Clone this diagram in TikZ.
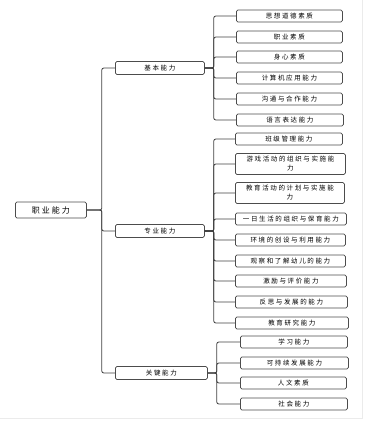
\documentclass[tikz,border=0pt]{standalone}
\usepackage{fontspec}
\setmainfont{Noto Sans CJK SC}
\newfontfamily\cjk[LetterSpace=25]{Noto Sans CJK SC}
\usetikzlibrary{positioning}

\begin{document}
\begin{tikzpicture}[
        x=1pt, y=-1pt,
        box/.style={draw=black!70, fill=white, rounded corners=1.5pt, line width=0.8pt,
            inner sep=0pt, align=center, font=\cjk\fontsize{6.5}{9}\selectfont},
        leaf/.style={box, anchor=west, minimum width=106pt, minimum height=12pt},
        branch/.style={box, anchor=west, minimum width=89pt, minimum height=13pt},
        root/.style={box, anchor=west, minimum width=71pt, minimum height=16pt,
            font=\cjk\fontsize{8}{10}\selectfont},
        link/.style={draw=black!75, line width=0.8pt, rounded corners=2pt}
    ]
        \useasboundingbox (0,0) rectangle (365,423);
        \draw[black!8] (362,0) -- (362,418) -- (0,418);

        % Nodes
        \node[root] (root) at (15,210) {职业能力};

        \node[branch] (basic) at (115,68) {基本能力};
        \node[branch] (major) at (115,231) {专业能力};
        \node[branch, minimum width=92pt] (key) at (115,373) {关键能力};

        \node[leaf] (b1) at (236,16) {思想道德素质};
        \node[leaf] (b2) at (236,37) {职业素质};
        \node[leaf] (b3) at (236,57) {身心素质};
        \node[leaf] (b4) at (236,78) {计算机应用能力};
        \node[leaf] (b5) at (236,99) {沟通与合作能力};
        \node[leaf, minimum width=107pt] (b6) at (236,120) {语言表达能力};

        \node[leaf, minimum width=107pt] (m1) at (235,139) {班级管理能力};
        \node[leaf, minimum width=110pt, minimum height=21pt] (m2) at (235,164) {游戏活动的组织与实施能\\力};
        \node[leaf, minimum width=109pt, minimum height=21pt] (m3) at (235,193) {教育活动的计划与实施能\\力};
        \node[leaf, minimum width=111pt] (m4) at (235,219) {一日生活的组织与保育能力};
        \node[leaf, minimum width=110pt] (m5) at (235,240) {环境的创设与利用能力};
        \node[leaf, minimum width=110pt] (m6) at (235,261) {观察和了解幼儿的能力};
        \node[leaf, minimum width=111pt] (m7) at (235,281) {激励与评价能力};
        \node[leaf, minimum width=112pt] (m8) at (235,302) {反思与发展的能力};
        \node[leaf, minimum width=113pt] (m9) at (235,323) {教育研究能力};

        \node[leaf, minimum width=107pt] (k1) at (240,342) {学习能力};
        \node[leaf, minimum width=108pt] (k2) at (240,363) {可持续发展能力};
        \node[leaf, minimum width=106pt] (k3) at (240,383) {人文素质};
        \node[leaf, minimum width=107pt] (k4) at (240,404) {社会能力};

        % Lines
        \foreach \n in {basic, major, key}
            \draw[link] (root.east) -- ++(15,0) |- (\n.west);
        \foreach \n in {b1, b2, b3, b4, b5, b6}
            \draw[link] (basic.east) -- ++(9,0) |- (\n.west);
        \foreach \n in {m1, m2, m3, m4, m5, m6, m7, m8, m9}
            \draw[link] (major.east) -- ++(9,0) |- (\n.west);
        \foreach \n in {k1, k2, k3, k4}
            \draw[link] (key.east) -- ++(9,0) |- (\n.west);
    \end{tikzpicture}
\end{document}
